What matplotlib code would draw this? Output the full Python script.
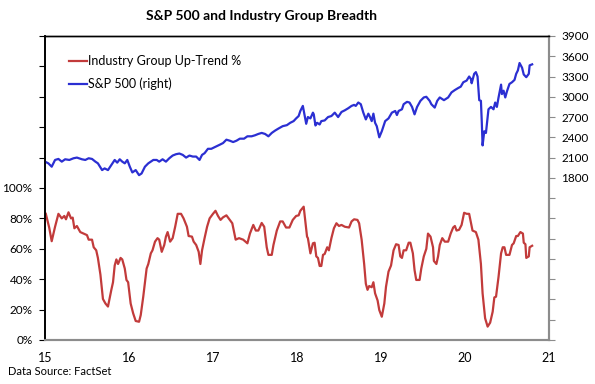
import numpy as np
import matplotlib
matplotlib.use('Agg')
import matplotlib.pyplot as plt
from matplotlib.ticker import FuncFormatter, MultipleLocator

# Industry group up-trend % (decimal year, percent)
breadth_dates = [
    2015.01, 2015.05, 2015.08, 2015.12, 2015.16, 2015.20, 2015.23, 2015.25, 2015.28, 2015.31,
    2015.33, 2015.35, 2015.38, 2015.42, 2015.46, 2015.50, 2015.52, 2015.56, 2015.58, 2015.61,
    2015.63, 2015.66, 2015.69, 2015.72, 2015.75, 2015.79, 2015.81, 2015.83, 2015.85, 2015.87,
    2015.90, 2015.92, 2015.95, 2015.97, 2015.99, 2016.02, 2016.05, 2016.08, 2016.12, 2016.14,
    2016.17, 2016.21, 2016.23, 2016.26, 2016.28, 2016.31, 2016.34, 2016.36, 2016.39, 2016.42,
    2016.44, 2016.46, 2016.49, 2016.52, 2016.55, 2016.58, 2016.62, 2016.65, 2016.69, 2016.71,
    2016.75, 2016.77, 2016.80, 2016.83, 2016.85, 2016.87, 2016.90, 2016.93, 2016.96, 2017.00,
    2017.03, 2017.06, 2017.09, 2017.12, 2017.16, 2017.20, 2017.23, 2017.27, 2017.31, 2017.36,
    2017.41, 2017.44, 2017.48, 2017.51, 2017.54, 2017.58, 2017.61, 2017.64, 2017.66, 2017.70,
    2017.72, 2017.76, 2017.80, 2017.83, 2017.87, 2017.91, 2017.95, 2017.99, 2018.02, 2018.04,
    2018.08, 2018.12, 2018.13, 2018.16, 2018.19, 2018.21, 2018.23, 2018.25, 2018.27, 2018.29,
    2018.31, 2018.33, 2018.36, 2018.38, 2018.41, 2018.44, 2018.47, 2018.50, 2018.53, 2018.57,
    2018.62, 2018.65, 2018.68, 2018.72, 2018.74, 2018.77, 2018.80, 2018.82, 2018.84, 2018.86,
    2018.89, 2018.91, 2018.93, 2018.96, 2018.98, 2019.01, 2019.04, 2019.06, 2019.09, 2019.12,
    2019.15, 2019.18, 2019.21, 2019.23, 2019.25, 2019.27, 2019.30, 2019.33, 2019.35, 2019.38,
    2019.40, 2019.42, 2019.46, 2019.48, 2019.51, 2019.54, 2019.56, 2019.59, 2019.62, 2019.63,
    2019.66, 2019.68, 2019.70, 2019.73, 2019.76, 2019.80, 2019.83, 2019.86, 2019.88, 2019.90,
    2019.93, 2019.96, 2019.99, 2020.02, 2020.05, 2020.09, 2020.13, 2020.16, 2020.19, 2020.21,
    2020.24, 2020.27, 2020.30, 2020.33, 2020.35, 2020.37, 2020.40, 2020.43, 2020.45, 2020.47,
    2020.49, 2020.53, 2020.56, 2020.58, 2020.61, 2020.63, 2020.66, 2020.69, 2020.70, 2020.72,
    2020.73, 2020.76, 2020.77, 2020.80,
]
breadth_pct = [
    83, 74, 65, 74.5, 83, 80, 81.6, 79.4, 84, 80,
    80.5, 73.5, 75, 71, 70, 69, 66, 66, 61, 59,
    54, 43, 27, 24, 22, 33, 38, 49, 53, 50,
    54, 53, 47, 39.5, 38, 24, 17.5, 12.5, 12, 16.4,
    28.5, 47, 50, 57, 59, 64.7, 67, 66, 58, 62.5,
    68, 71, 64.7, 67, 74.5, 83, 83, 80, 74.5, 68.4,
    68, 64.7, 62.5, 58, 50, 59, 67, 74.5, 80, 83,
    85, 81.6, 79, 80.7, 82, 79, 76.8, 66, 67, 66,
    63.6, 70, 75.7, 72, 72, 77, 74.5, 61, 56, 56,
    62.5, 72, 78, 78, 74, 74, 79, 81.6, 82, 85,
    87.7, 68, 67, 57, 63.6, 64, 55, 54, 48.7, 48.7,
    56, 56.6, 61, 59, 67, 73.5, 76.8, 75, 75.7, 74.5,
    74, 78, 79.4, 79, 76.8, 66, 50, 37, 33, 35.5,
    34.7, 38, 30.7, 26, 19.7, 15.3, 24, 35, 45, 49,
    59, 63, 62.5, 55, 54, 59, 59, 64, 64, 57,
    46, 39.5, 39.5, 47, 55, 60, 70, 68, 61, 52,
    50, 55, 62.5, 67, 64.7, 64.7, 70, 74, 75, 72,
    72.5, 75.7, 83.7, 83, 83, 72, 71, 66, 50, 30.7,
    14.3, 8.8, 11.4, 18.6, 28, 28.5, 41.6, 57, 61, 61,
    56, 56, 62.5, 63.6, 68.4, 68.4, 71, 70, 64, 63,
    54, 55, 61, 62,
]

# S&P 500 (decimal year, index level)
spx_dates = [
    2015.00, 2015.04, 2015.08, 2015.12, 2015.16, 2015.20, 2015.24, 2015.29, 2015.34, 2015.38,
    2015.44, 2015.48, 2015.52, 2015.56, 2015.60, 2015.63, 2015.68, 2015.71, 2015.75, 2015.79,
    2015.83, 2015.86, 2015.89, 2015.92, 2015.95, 2015.98, 2016.01, 2016.04, 2016.08, 2016.12,
    2016.15, 2016.19, 2016.23, 2016.29, 2016.33, 2016.36, 2016.40, 2016.44, 2016.48, 2016.52,
    2016.56, 2016.60, 2016.64, 2016.68, 2016.72, 2016.76, 2016.80, 2016.84, 2016.87, 2016.90,
    2016.94, 2016.98, 2017.04, 2017.08, 2017.12, 2017.16, 2017.20, 2017.24, 2017.28, 2017.32,
    2017.37, 2017.41, 2017.46, 2017.50, 2017.54, 2017.58, 2017.62, 2017.66, 2017.70, 2017.74,
    2017.78, 2017.83, 2017.88, 2017.92, 2017.96, 2017.99, 2018.02, 2018.04, 2018.07, 2018.11,
    2018.13, 2018.16, 2018.19, 2018.20, 2018.22, 2018.24, 2018.27, 2018.29, 2018.33, 2018.37,
    2018.41, 2018.45, 2018.49, 2018.53, 2018.57, 2018.61, 2018.65, 2018.68, 2018.70, 2018.73,
    2018.76, 2018.79, 2018.82, 2018.85, 2018.87, 2018.89, 2018.91, 2018.93, 2018.95, 2018.98,
    2019.01, 2019.05, 2019.09, 2019.13, 2019.17, 2019.19, 2019.21, 2019.25, 2019.27, 2019.31,
    2019.34, 2019.37, 2019.40, 2019.43, 2019.47, 2019.51, 2019.54, 2019.58, 2019.60, 2019.64,
    2019.67, 2019.70, 2019.75, 2019.80, 2019.84, 2019.88, 2019.92, 2019.95, 2019.98, 2020.02,
    2020.05, 2020.07, 2020.08, 2020.11, 2020.13, 2020.15, 2020.17, 2020.19, 2020.20, 2020.21,
    2020.23, 2020.25, 2020.28, 2020.31, 2020.34, 2020.36, 2020.38, 2020.40, 2020.43, 2020.44,
    2020.46, 2020.48, 2020.50, 2020.53, 2020.56, 2020.59, 2020.61, 2020.63, 2020.65, 2020.68,
    2020.70, 2020.73, 2020.76, 2020.77, 2020.80,
]
spx_level = [
    2040, 2015, 1965, 2065, 2080, 2040, 2075, 2065, 2090, 2100,
    2075, 2065, 2090, 2080, 2040, 2015, 1915, 1940, 1915, 1990,
    2065, 2025, 2075, 2040, 2015, 2065, 1965, 1880, 1915, 1840,
    1865, 1965, 2015, 2065, 2065, 2040, 2075, 2040, 2090, 2130,
    2150, 2160, 2140, 2100, 2130, 2115, 2115, 2065, 2140, 2165,
    2230, 2230, 2265, 2290, 2315, 2365, 2350, 2330, 2350, 2380,
    2380, 2415, 2415, 2430, 2450, 2465, 2450, 2415, 2465, 2500,
    2530, 2565, 2580, 2615, 2640, 2680, 2715, 2790, 2865, 2600,
    2700, 2680, 2765, 2740, 2575, 2615, 2590, 2640, 2650, 2700,
    2715, 2765, 2700, 2775, 2800, 2830, 2865, 2880, 2865, 2915,
    2890, 2765, 2665, 2750, 2700, 2640, 2750, 2615, 2565, 2400,
    2490, 2640, 2680, 2765, 2790, 2730, 2790, 2815, 2890, 2925,
    2915, 2850, 2740, 2850, 2940, 2990, 3000, 2940, 2890, 2840,
    2940, 2990, 2950, 2990, 3065, 3100, 3130, 3150, 3215, 3240,
    3300, 3265, 3200, 3340, 3365, 3300, 2950, 2940, 2640, 2280,
    2490, 2465, 2815, 2850, 2815, 2915, 2850, 2990, 3180, 3040,
    3090, 2990, 3080, 3190, 3215, 3250, 3340, 3390, 3500, 3430,
    3330, 3290, 3340, 3465, 3480,
]

year_ticks = [2015, 2016, 2017, 2018, 2019, 2020, 2021]
year_labels = ['15', '16', '17', '18', '19', '20', '21']

plt.rcParams['font.family'] = ['Lato', 'DejaVu Sans']

red = '#C23B3B'
blue = '#2B2FD2'
grey = '#8C8C8C'

fig = plt.figure(figsize=(5.95, 3.84), dpi=100)
ax = fig.add_axes([0.0756, 0.1146, 0.847, 0.7917])
ax2 = ax.twinx()

l1, = ax.plot(breadth_dates, np.array(breadth_pct) / 100, color=red, lw=1.6,
              label='Industry Group Up-Trend %')
l2, = ax2.plot(spx_dates, spx_level, color=blue, lw=1.6, label='S&P 500 (right)')

ax.set_xlim(2015, 2021)
ax.set_xticks(year_ticks)
ax.set_xticklabels(year_labels)
ax.tick_params(axis='x', length=0, pad=9, labelsize=9)

# left axis: 0-200% range, only the lower half labelled
ax.set_ylim(0, 2.0)
ax.yaxis.set_major_locator(MultipleLocator(0.2))
ax.yaxis.set_major_formatter(FuncFormatter(
    lambda v, p: f'{v * 100:.0f}%' if v <= 1.0001 else ''))
ax.tick_params(axis='y', length=4, width=0.8, pad=5, labelsize=8.5)

# right axis: only 1800 and up labelled
ax2.set_ylim(-600, 3900)
ax2.yaxis.set_major_locator(MultipleLocator(300))
ax2.yaxis.set_major_formatter(FuncFormatter(
    lambda v, p: f'{v:.0f}' if v >= 1799 else ''))
ax2.tick_params(axis='y', length=4, width=0.8, color=grey, pad=5, labelsize=8.5)

for a in (ax, ax2):
    a.spines['left'].set_color('black')
    a.spines['top'].set_color('black')
    a.spines['bottom'].set_color(grey)
    a.spines['right'].set_color(grey)
    a.spines['left'].set_linewidth(1.2)
    a.spines['top'].set_linewidth(1.0)
    a.spines['bottom'].set_linewidth(1.5)
    a.spines['right'].set_linewidth(1.5)

ax2.legend([l1, l2], [l1.get_label(), l2.get_label()], loc='upper left',
           bbox_to_anchor=(0.116, 0.856), bbox_transform=fig.transFigure,
           frameon=False, fontsize=9, handlelength=1.4, handletextpad=0.1,
           labelspacing=0.85, borderpad=0, borderaxespad=0)

fig.text(0.439, 0.958, 'S&P 500 and Industry Group Breadth', ha='center', va='center',
         fontsize=10, fontweight='bold')
fig.text(0.013, 0.018, 'Data Source: FactSet', ha='left', va='bottom', fontsize=8)

fig.savefig('out.png', dpi=100)
